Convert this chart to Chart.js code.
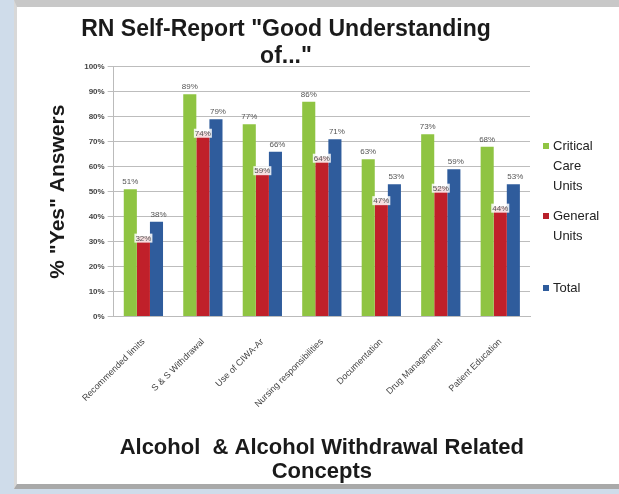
<!DOCTYPE html>
<html>
<head>
<meta charset="utf-8">
<script src="https://cdn.jsdelivr.net/npm/chart.js@4.4.4/dist/chart.umd.min.js"></script>
<style>
  html, body { margin: 0; padding: 0; }
  body { width: 619px; height: 494px; background: #cfdcea; position: relative; overflow: hidden; font-family: "Liberation Sans", Arial, sans-serif; }
  #frame { position: absolute; left: 14px; top: 0; width: 605px; height: 489px; background: #ffffff;
           border-left: 3px solid #d8d8d8; border-top: 7px solid #c8c8c8; border-bottom: 5px solid #a9a9a9; box-sizing: border-box; }
  #wrap { position: absolute; left: 0; top: 0; width: 619px; height: 494px; }
  #legend { position: absolute; left: 543px; top: 136px; font-size: 13px; color: #222; line-height: 20px; }
  .item { position: relative; padding-left: 10px; }
  .sw { position: absolute; left: 0; top: 7px; width: 6px; height: 6px; }
</style>
</head>
<body>
<div id="frame"></div>
<div id="wrap"><canvas id="chart"></canvas></div>
<div id="legend">
  <div class="item" style="height:70px"><span class="sw" style="background:#8fc442"></span>Critical<br>Care<br>Units</div>
  <div class="item" style="height:72px"><span class="sw" style="background:#b8202a"></span>General<br>Units</div>
  <div class="item"><span class="sw" style="background:#2f5c9c"></span>Total</div>
</div>
<script>
const categories = [
  'Recommended limits',
  'S & S Withdrawal',
  'Use of CIWA-Ar',
  'Nursing responsibilities',
  'Documentation',
  'Drug Management',
  'Patient Education'
];
const criticalCare = [51, 89, 77, 86, 63, 73, 68];
const generalUnits = [32, 74, 59, 64, 47, 52, 44];
const total = [38, 79, 66, 71, 53, 59, 53];
const yTicks = [0, 10, 20, 30, 40, 50, 60, 70, 80, 90, 100];

const FONT = '"Liberation Sans", Arial, sans-serif';

const valueLabels = {
  id: 'valueLabels',
  afterDatasetsDraw(chart) {
    const ctx = chart.ctx;
    ctx.save();
    ctx.font = '8px ' + FONT;
    ctx.textAlign = 'center';
    ctx.textBaseline = 'bottom';
    chart.data.datasets.forEach((ds, i) => {
      const meta = chart.getDatasetMeta(i);
      meta.data.forEach((bar, j) => {
        const txt = ds.data[j] + '%';
        let y = bar.y - 3;
        if (i === 1) {
          y = bar.y + 6;
          const w = ctx.measureText(txt).width;
          ctx.fillStyle = 'rgba(255,255,255,0.85)';
          ctx.fillRect(bar.x - w / 2 - 1, y - 9, w + 2, 9);
        }
        ctx.fillStyle = '#555';
        ctx.fillText(txt, bar.x + (i === 2 ? 2 : 0), y);
      });
    });
    ctx.restore();
  }
};

new Chart(document.getElementById('chart'), {
  type: 'bar',
  data: {
    labels: categories,
    datasets: [
      { label: 'Critical Care Units', data: criticalCare, backgroundColor: '#8fc442' },
      { label: 'General Units', data: generalUnits, backgroundColor: '#c0202a' },
      { label: 'Total', data: total, backgroundColor: '#2f5c9c' }
    ]
  },
  options: {
    responsive: true,
    maintainAspectRatio: false,
    animation: false,
    layout: { padding: { left: 42, right: 89, top: 16, bottom: 6 } },
    datasets: { bar: { categoryPercentage: 0.66, barPercentage: 1 } },
    plugins: {
      legend: { display: false },
      tooltip: { enabled: false },
      title: {
        display: true,
        text: ['RN Self-Report "Good Understanding', 'of..."'],
        color: '#1a1a1a',
        font: { family: FONT, size: 23, weight: 'bold', lineHeight: 1.17 },
        padding: { top: 0, bottom: -3 }
      }
    },
    scales: {
      x: {
        grid: { display: false },
        border: { color: '#bbb' },
        ticks: {
          color: '#444',
          font: { family: FONT, size: 9 },
          padding: 12,
          minRotation: 45,
          maxRotation: 45,
          autoSkip: false
        },
        title: {
          display: true,
          text: ['Alcohol  & Alcohol Withdrawal Related', 'Concepts'],
          color: '#1a1a1a',
          font: { family: FONT, size: 22, weight: 'bold', lineHeight: 1.1 },
          padding: { top: 14 }
        }
      },
      y: {
        min: 0,
        max: 100,
        afterBuildTicks(scale) { scale.ticks = yTicks.map(v => ({ value: v })); },
        grid: { color: '#bdbdbd', tickLength: 6 },
        border: { color: '#bbb' },
        ticks: {
          color: '#444',
          font: { family: FONT, size: 8, weight: 'bold' },
          callback: v => v + '%'
        },
        title: {
          display: true,
          text: '% "Yes" Answers',
          color: '#1a1a1a',
          font: { family: FONT, size: 21, weight: 'bold' },
          padding: { bottom: 10 }
        }
      }
    }
  },
  plugins: [valueLabels]
});
</script>
</body>
</html>
